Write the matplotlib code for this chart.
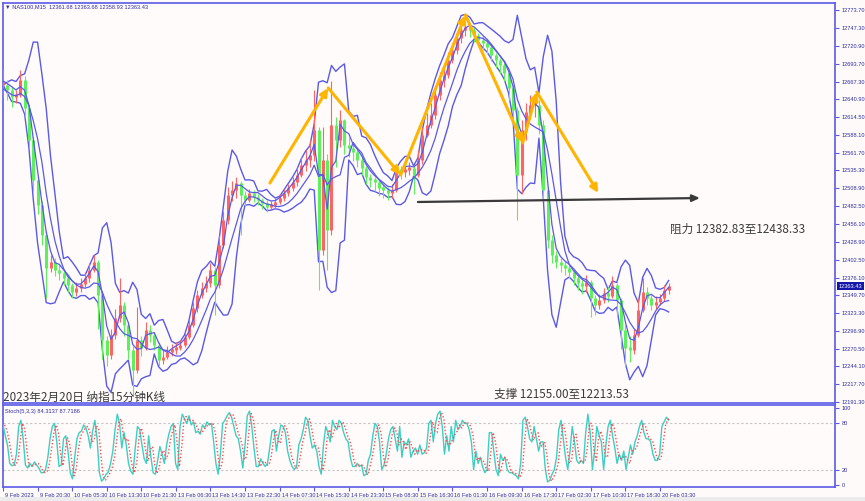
import numpy as np
import pandas as pd
import matplotlib
matplotlib.use("Agg")
import matplotlib.pyplot as plt
from matplotlib.transforms import blended_transform_factory, ScaledTranslation
from matplotlib.patches import Rectangle

# ---------------- data ----------------
# hourly closes / highs / lows of NAS100 (15-min chart, one value every 4 bars)
closes = [
    12662.2, 12654.8, 12644.4, 12647.4, 12669.7, 12628.1, 12580.5, 12521.1, 12483.9, 12439.4,
    12390.3, 12399.2, 12387.3, 12382.9, 12375.5, 12365.1, 12354.7, 12360.6, 12366.5, 12375.5,
    12387.3, 12399.2, 12350.2, 12283.3, 12261.0, 12290.8, 12316.0, 12335.3, 12305.6, 12268.5,
    12238.7, 12283.3, 12271.4, 12298.2, 12290.8, 12275.9, 12253.6, 12258.1, 12265.5, 12268.5,
    12271.4, 12275.9, 12287.8, 12305.6, 12330.9, 12350.2, 12360.6, 12368.0, 12387.3, 12365.1,
    12424.5, 12461.6, 12498.8, 12506.2, 12516.6, 12498.8, 12491.4, 12501.8, 12495.8, 12491.4,
    12486.9, 12481.0, 12483.9, 12488.4, 12494.3, 12501.8, 12509.2, 12518.1, 12528.5, 12543.4,
    12550.8, 12558.2, 12595.4, 12417.1, 12550.8, 12446.8, 12602.8, 12580.5, 12610.2, 12573.1,
    12568.6, 12562.7, 12550.8, 12538.9, 12525.5, 12521.1, 12518.1, 12509.2, 12506.2, 12501.8,
    12506.2, 12535.9, 12533.0, 12535.9, 12538.9, 12528.5, 12550.8, 12588.0, 12602.8, 12617.7,
    12647.4, 12669.7, 12677.1, 12699.4, 12714.3, 12732.1, 12744.0, 12747.0, 12744.0, 12736.6,
    12729.1, 12724.7, 12718.7, 12706.8, 12699.4, 12692.0, 12680.1, 12657.8, 12625.1, 12528.5,
    12595.4, 12622.1, 12632.5, 12632.5, 12602.8, 12506.2, 12431.9, 12409.6, 12399.2, 12394.8,
    12390.3, 12384.4, 12375.5, 12368.0, 12363.6, 12369.5, 12345.7, 12335.3, 12342.8, 12353.2,
    12348.7, 12365.1, 12342.8, 12298.2, 12271.4, 12268.5, 12290.8, 12327.9, 12354.7, 12345.7,
    12335.3, 12339.8, 12345.7, 12357.6, 12363.43,
]
highs = [
    12685, 12670, 12660, 12655, 12685, 12675, 12632, 12585, 12525, 12490,
    12445, 12410, 12405, 12395, 12388, 12380, 12368, 12370, 12375, 12385,
    12398, 12410, 12402, 12352, 12290, 12300, 12330, 12375, 12340, 12310,
    12275, 12332, 12290, 12310, 12305, 12295, 12280, 12268, 12275, 12278,
    12280, 12283, 12295, 12315, 12340, 12358, 12370, 12378, 12398, 12392,
    12440, 12475, 12510, 12520, 12525, 12520, 12505, 12508, 12506, 12500,
    12495, 12492, 12490, 12494, 12500, 12508, 12515, 12526, 12540, 12555,
    12565, 12580, 12655, 12600, 12600, 12560, 12668, 12615, 12625, 12612,
    12585, 12575, 12565, 12555, 12542, 12530, 12526, 12520, 12514, 12510,
    12515, 12545, 12542, 12545, 12548, 12542, 12565, 12600, 12620, 12635,
    12660, 12682, 12690, 12712, 12725, 12742, 12752, 12756, 12752, 12748,
    12740, 12735, 12730, 12722, 12710, 12702, 12695, 12682, 12662, 12630,
    12610, 12635, 12648, 12642, 12640, 12610, 12510, 12440, 12415, 12405,
    12400, 12395, 12388, 12380, 12372, 12380, 12372, 12350, 12352, 12360,
    12362, 12378, 12368, 12345, 12305, 12290, 12300, 12345, 12375, 12362,
    12350, 12348, 12352, 12365, 12368,
]
lows = [
    12645, 12640, 12630, 12635, 12645, 12615, 12570, 12505, 12470, 12425,
    12345, 12385, 12378, 12372, 12365, 12355, 12345, 12348, 12355, 12362,
    12370, 12384, 12300, 12255, 12245, 12255, 12285, 12310, 12290, 12255,
    12200, 12235, 12260, 12268, 12280, 12268, 12245, 12248, 12255, 12260,
    12263, 12268, 12273, 12285, 12302, 12325, 12345, 12355, 12362, 12320,
    12360, 12420, 12455, 12490, 12495, 12440, 12482, 12488, 12488, 12484,
    12478, 12474, 12476, 12478, 12485, 12490, 12498, 12505, 12512, 12525,
    12535, 12540, 12550, 12357, 12410, 12387, 12440, 12540, 12570, 12560,
    12555, 12550, 12540, 12528, 12515, 12510, 12505, 12498, 12495, 12492,
    12495, 12503, 12522, 12525, 12528, 12500, 12525, 12545, 12585, 12598,
    12612, 12640, 12660, 12672, 12695, 12708, 12725, 12735, 12733, 12726,
    12720, 12715, 12708, 12698, 12688, 12680, 12668, 12640, 12610, 12462,
    12500, 12580, 12612, 12615, 12590, 12490, 12420, 12398, 12390, 12385,
    12380, 12375, 12365, 12358, 12352, 12355, 12318, 12320, 12330, 12338,
    12340, 12345, 12320, 12270, 12243, 12250, 12262, 12288, 12325, 12336,
    12328, 12330, 12335, 12342, 12352,
]

# Stochastic %K, one value every ~2 bars
stoch_k = [
    78, 64, 52, 28, 25, 26, 40, 76, 84, 60, 26, 22, 28, 24, 30, 26, 22, 16, 16, 20,
    36, 60, 76, 80, 56, 24, 26, 60, 64, 44, 16, 8, 36, 60, 68, 70, 78, 74, 64, 48,
    70, 84, 60, 16, 5, 8, 14, 17, 28, 44, 72, 92, 80, 48, 68, 52, 28, 18, 14, 48,
    76, 72, 52, 34, 28, 64, 36, 16, 14, 32, 50, 40, 28, 52, 66, 76, 80, 28, 20, 76,
    92, 86, 80, 90, 78, 82, 68, 70, 66, 78, 74, 82, 78, 80, 56, 28, 14, 40, 80, 84,
    90, 94, 88, 76, 64, 60, 44, 22, 52, 90, 96, 76, 48, 24, 24, 34, 28, 24, 28, 48,
    70, 72, 44, 64, 78, 76, 68, 44, 32, 24, 20, 24, 52, 60, 72, 88, 84, 64, 48, 52,
    44, 24, 14, 52, 76, 68, 56, 84, 76, 72, 84, 80, 68, 60, 56, 36, 24, 24, 28, 24,
    26, 12, 14, 32, 40, 64, 80, 76, 56, 20, 26, 40, 60, 72, 76, 60, 44, 76, 36, 56,
    52, 60, 36, 44, 48, 40, 52, 40, 42, 48, 80, 84, 56, 80, 92, 96, 76, 40, 64, 44,
    76, 56, 84, 72, 76, 84, 80, 80, 72, 56, 20, 44, 28, 36, 24, 16, 20, 68, 68, 44,
    20, 12, 40, 32, 36, 20, 16, 16, 14, 12, 8, 28, 84, 88, 76, 60, 56, 76, 60, 44,
    56, 56, 20, 4, 6, 14, 20, 36, 72, 84, 60, 36, 20, 44, 76, 56, 32, 28, 32, 28,
    68, 92, 68, 20, 44, 76, 64, 56, 20, 52, 76, 84, 64, 48, 28, 40, 32, 44, 20, 36,
    52, 40, 56, 64, 76, 84, 68, 60, 60, 56, 40, 32, 32, 40, 76, 82, 88, 84.3,
]

x_labels = ["9 Feb 2023", "9 Feb 20:30", "10 Feb 05:30", "10 Feb 13:30", "10 Feb 21:30",
            "13 Feb 06:30", "13 Feb 14:30", "13 Feb 22:30", "14 Feb 07:30", "14 Feb 15:30",
            "14 Feb 23:30", "15 Feb 08:30", "15 Feb 16:30", "16 Feb 01:30", "16 Feb 09:30",
            "16 Feb 17:30", "17 Feb 02:30", "17 Feb 10:30", "17 Feb 18:30", "20 Feb 03:30"]

price_ticks = [12773.70, 12747.30, 12720.90, 12693.70, 12667.30, 12640.90, 12614.50,
               12588.10, 12561.70, 12535.30, 12508.90, 12482.50, 12456.10, 12428.90,
               12402.50, 12376.10, 12349.70, 12323.30, 12296.90, 12270.50, 12244.10,
               12217.70, 12191.30]
stoch_ticks = [0, 20, 80, 100]

# yellow zig-zag (bar index, price) and dark horizontal arrow
zigzag_bars = [247, 301, 368, 428, 481, 494, 551]
zigzag_prices = [12516.6, 12657.8, 12528.5, 12766.3, 12576.1, 12651.8, 12501.8]
arrow_bars = [384, 645]
arrow_prices = [12488.4, 12494.3]

last_price = 12363.43
header = "\u25BC NAS100,M15  12361.68 12363.68 12358.93 12363.43"
stoch_label = "Stoch(5,3,3) 84.3137 87.7186"
title_txt = "2023年2月20日 纳指15分钟K线"
resist_txt = "阻力 12382.83至12438.33"
support_txt = "支撑 12155.00至12213.53"

# ---------------- layout ----------------
W, H = 865, 501
BG = "#FFFBFA"
BLUE = "#5A5AE6"
LBL = "#2E2E9E"
SMALL = "Liberation Sans"
FS = 4.1
CJK = ["Noto Sans CJK SC", "DejaVu Sans"]

fig = plt.figure(figsize=(W / 100, H / 100), dpi=100, facecolor="#FDFAF9")


def rect(l, t, r, b):
    return [l / W, 1 - b / H, (r - l) / W, (b - t) / H]


ax = fig.add_axes(rect(3, 3, 835, 403))
ax2 = fig.add_axes(rect(3, 405, 835, 487))
for a in (ax, ax2):
    a.set_facecolor(BG)
    for sp in a.spines.values():
        sp.set_color(BLUE)
        sp.set_linewidth(1.2)
    a.set_xlim(0, 770)

ax.set_ylim(12189.7, 12784.1)
ax2.set_ylim(-2.6, 103.9)

# ---------------- price panel ----------------
s = pd.Series(closes)
bars = np.arange(len(closes)) * 4

# bands (computed from the closes)
mid = s.rolling(5, min_periods=1).mean()
sd = s.rolling(5, min_periods=1).std(ddof=0).fillna(0)
upper = mid + 2.2 * sd
lower = mid - 2.2 * sd
ma_fast = s.rolling(3, min_periods=1).mean()
ma_slow = s.rolling(6, min_periods=1).mean()

for line in (upper, lower):
    ax.plot(bars, line, color=BLUE, lw=1.0, zorder=2)
ax.plot(bars, ma_fast + 6, color=BLUE, lw=0.9, zorder=4)
ax.plot(bars, ma_slow - 6, color=BLUE, lw=0.9, zorder=4)

opens = s.shift(1).bfill().values
cl = s.values
lo = np.minimum(opens, cl)
hi = np.maximum(opens, cl)
hi = np.maximum(hi, lo + 4.0)
cols = np.where(cl >= opens, "#FF6464", "#5CF05C")
ax.vlines(bars, lows, highs, colors=cols, lw=0.8, zorder=3)
ax.vlines(bars, lo, hi, colors=cols, lw=2.2, zorder=3)

# zig-zag arrows
for i in range(len(zigzag_bars) - 1):
    ax.annotate("", xy=(zigzag_bars[i + 1], zigzag_prices[i + 1]),
                xytext=(zigzag_bars[i], zigzag_prices[i]),
                arrowprops=dict(arrowstyle="-|>,head_length=0.45,head_width=0.22",
                                color="#FFB400", lw=2.2, shrinkA=0, shrinkB=0),
                zorder=6)
ax.annotate("", xy=(arrow_bars[1], arrow_prices[1]), xytext=(arrow_bars[0], arrow_prices[0]),
            arrowprops=dict(arrowstyle="-|>,head_length=0.45,head_width=0.2",
                            color="#3A3A3A", lw=1.6, shrinkA=0, shrinkB=0), zorder=6)

ax.set_xticks([])
ax.yaxis.tick_right()
ax.set_yticks(price_ticks)
ax.set_yticklabels([f"{v:.2f}" for v in price_ticks])
ax.tick_params(axis="y", direction="out", length=3, width=0.8, color=BLUE,
               labelsize=FS, labelcolor=LBL, pad=2)
for t in ax.get_yticklabels():
    t.set_family(SMALL)

trans = blended_transform_factory(ax.transAxes, ax.transData)
ax.text(1.0045, last_price, f"{last_price:.2f}", transform=trans, fontsize=FS,
        family=SMALL, color="white", va="center", ha="left", zorder=10, clip_on=False,
        bbox=dict(facecolor="#1616A8", edgecolor="none", pad=0.9))

# ---------------- stochastic panel ----------------
k = pd.Series(stoch_k)
d = k.rolling(2, min_periods=1).mean()
sx = np.linspace(0, bars[-1], len(stoch_k))
for lvl in (20, 80):
    ax2.axhline(lvl, color="#C4C4C4", lw=0.8, ls=(0, (2, 2)), zorder=1)
ax2.plot(sx, k, color="#3CCFC4", lw=1.0, zorder=3)
ax2.plot(sx + 1.5, d, color="#FF4A4A", lw=1.0, ls=(0, (1, 1.5)), zorder=4)

ax2.yaxis.tick_right()
ax2.set_yticks(stoch_ticks)
ax2.set_yticklabels([str(v) for v in stoch_ticks])
ax2.tick_params(axis="y", direction="out", length=3, width=0.8, color=BLUE,
                labelsize=FS, labelcolor=LBL, pad=2)

ax2.set_xticks([32 * i for i in range(len(x_labels))])
ax2.set_xticklabels(x_labels)
ax2.tick_params(axis="x", direction="out", length=3, width=0.8, color=BLUE,
                labelsize=FS, labelcolor=LBL, pad=1.5)
off = ScaledTranslation(2 / 100, 0, fig.dpi_scale_trans)
for t in ax2.get_xticklabels():
    t.set_ha("left")
    t.set_family(SMALL)
    t.set_transform(t.get_transform() + off)
for t in ax2.get_yticklabels():
    t.set_family(SMALL)

# ---------------- texts ----------------
fig.text(5 / W, 1 - 7 / H, header, fontsize=FS, family=["Liberation Sans", "DejaVu Sans"],
         color=LBL, va="center", ha="left")
fig.text(5 / W, 1 - 411 / H, stoch_label, fontsize=FS, family=SMALL, color=LBL,
         va="center", ha="left")
fig.text(3 / W, 1 - 397 / H, title_txt, fontsize=8.4, color="#3A3A3A", va="center",
         ha="left", family=CJK, zorder=20)
fig.text(670 / W, 1 - 229 / H, resist_txt, fontsize=8.4, color="#3A3A3A", va="center",
         ha="left", family=CJK)
fig.text(494 / W, 1 - 394 / H, support_txt, fontsize=8.4, color="#3A3A3A", va="center",
         ha="left", family=CJK)

fig.patches.append(Rectangle((0, 0), 1, 4 / H, transform=fig.transFigure,
                             facecolor="#ECECEC", edgecolor="none"))

fig.savefig("out.png", dpi=100, facecolor=fig.get_facecolor())
